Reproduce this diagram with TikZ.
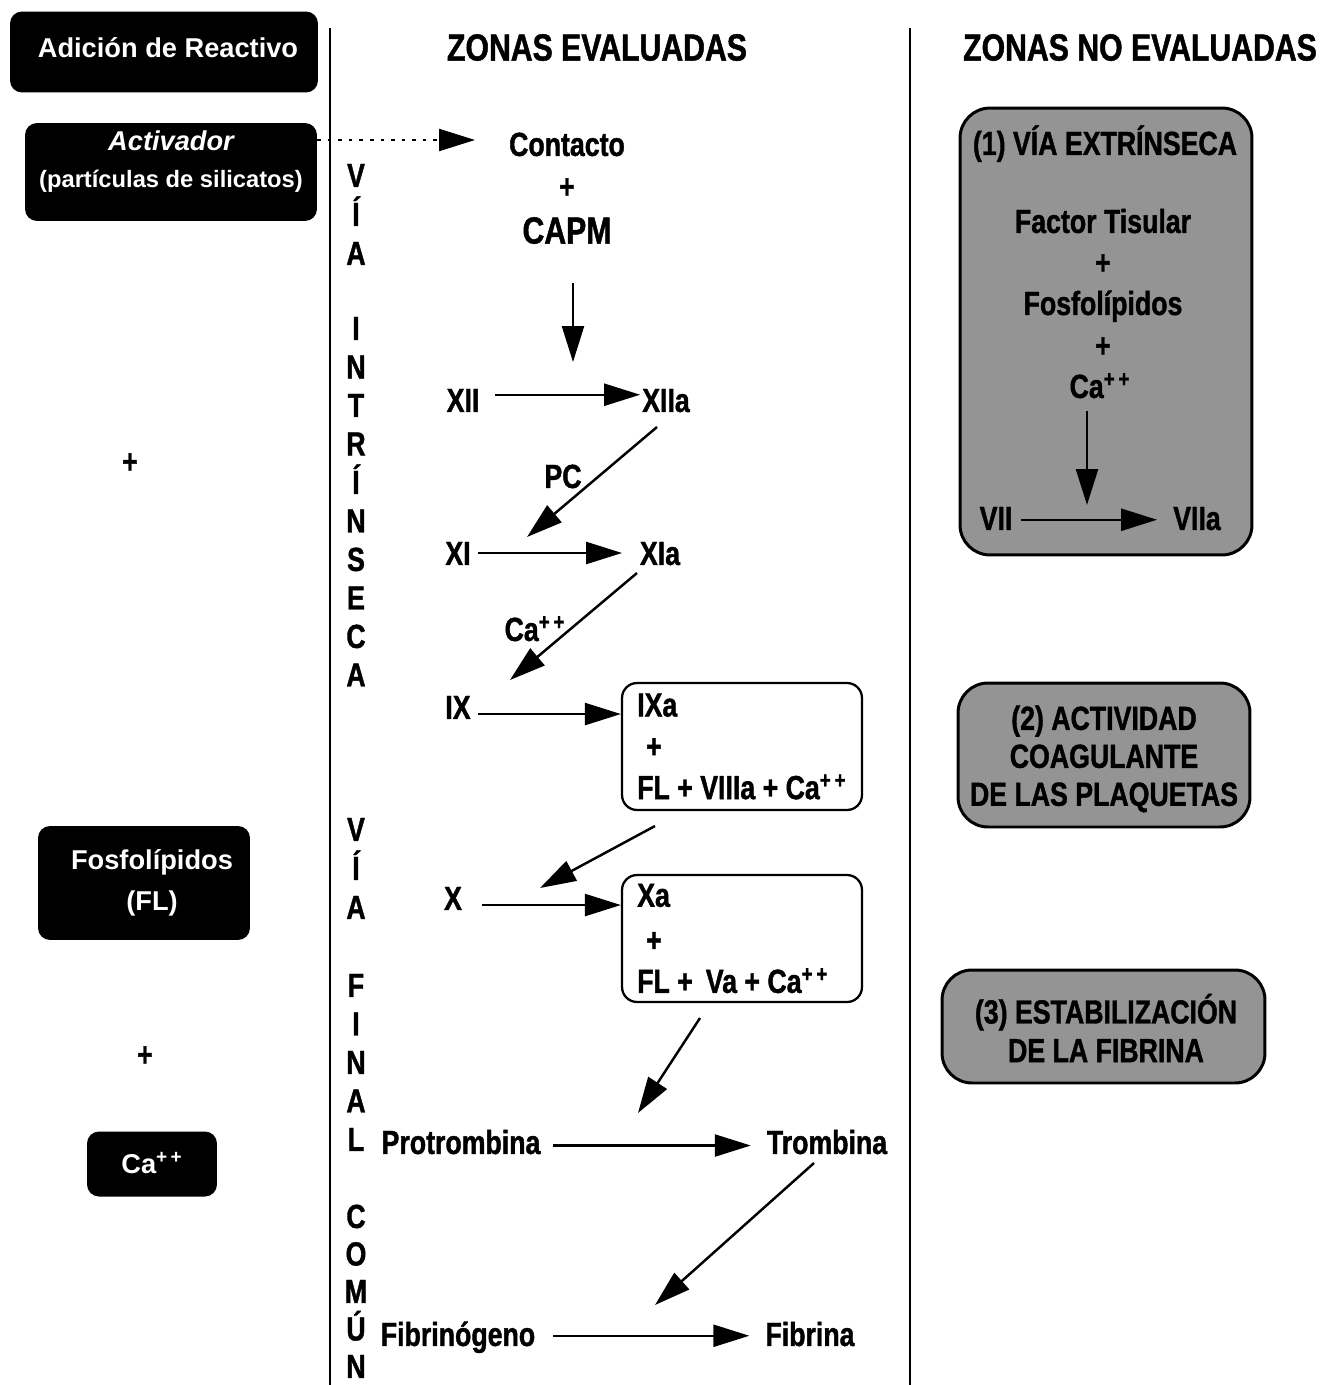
\documentclass[tikz,border=0pt]{standalone}
\usepackage{fontspec}
\setmainfont{Liberation Sans}
\newfontfamily\angosta{Liberation Sans}[FakeStretch=0.8, BoldFeatures={FakeBold=1.2}]
\usetikzlibrary{arrows.meta}

\newcommand{\fuente}{\angosta\bfseries\fontsize{19}{21.5}\selectfont}
\newcommand{\calcio}{Ca\textsuperscript{+\,+}}

\tikzset{
  negro/.style={fill=black, rounded corners=0.24cm},
  negrotxt/.style={text=white, align=center, inner sep=0pt,
    font=\bfseries\fontsize{15.5}{21}\selectfont},
  gris/.style={draw=black, line width=1.7pt, fill=black!42, rounded corners=0.6cm},
  blanco/.style={draw=black, line width=1.3pt, rounded corners=0.3cm},
  txt/.style={font=\fuente, inner sep=1pt, text height=13.6pt, text depth=0pt},
  bloque/.style={font=\fuente, inner sep=0pt, align=center},
  flecha/.style={line width=1.4pt, -{Triangle[length=0.72cm, width=0.44cm]}},
  sep/.style={line width=1.4pt},
}

\begin{document}
\begin{tikzpicture}[x=0.02cm, y=-0.02cm]
\useasboundingbox (0,0) rectangle (1325,1385);

% separadores
\draw[sep] (330,28) -- (330,1385);
\draw[sep] (910,28) -- (910,1385);

% titulos
\node[txt, font=\angosta\bfseries\fontsize{21.5}{24}\selectfont, text height=15.4pt] (zev) at (597,47) {ZONAS EVALUADAS};
\node[txt, font=\angosta\bfseries\fontsize{21.5}{24}\selectfont, text height=15.4pt] (znoev) at (1140,47) {ZONAS NO EVALUADAS};

% columna de reactivos
\node[negro, minimum width=6.16cm, minimum height=1.62cm] (reactivo) at (164,52) {};
\node[negrotxt] (reactivotxt) at (168,48) {Adición de Reactivo};
\node[negro, minimum width=5.84cm, minimum height=1.96cm] (activador) at (171,172) {};
\node[negrotxt] (activadortxt) at (171,162)
  {{\itshape Activador}\\{\fontsize{13.5}{16}\selectfont (partículas de silicatos)}};
\node[txt] (mas1) at (130,461) {+};
\node[negro, minimum width=4.24cm, minimum height=2.28cm] (fosfo) at (144,883) {};
\node[negrotxt] (fosfotxt) at (152,883) {Fosfolípidos\\[2pt](FL)};
\node[txt] (mas2) at (145,1054) {+};
\node[negro, minimum width=2.6cm, minimum height=1.3cm] (calcio) at (152,1164) {};
\node[negrotxt] (calciotxt) at (152,1163) {\calcio};

% letras verticales
\foreach \l [count=\i from 0] in {V,Í,A}
  \node[txt, inner sep=0pt] (va\i) at (356,{175+39*\i}) {\l};
\foreach \l [count=\i from 0] in {I,N,T,R,Í,N,S,E,C,A}
  \node[txt, inner sep=0pt] (intr\i) at (356,{328+38.5*\i}) {\l};
\foreach \l [count=\i from 0] in {V,Í,A}
  \node[txt, inner sep=0pt] (vb\i) at (356,{829+39*\i}) {\l};
\foreach \l [count=\i from 0] in {F,I,N,A,L}
  \node[txt, inner sep=0pt] (fin\i) at (356,{985+38.5*\i}) {\l};
\foreach \l [count=\i from 0] in {C,O,M,Ú,N}
  \node[txt, inner sep=0pt] (com\i) at (356,{1216+37.5*\i}) {\l};

% via intrinseca
\node[txt] (contacto) at (567,144) {Contacto};
\node[txt] (mas3) at (567,186) {+};
\node[txt, font=\angosta\bfseries\fontsize{21.5}{24}\selectfont, text height=15.4pt] (capm) at (567,230) {CAPM};
\coordinate (punta0) at (475,140);
\draw[flecha, line width=1.3pt, dash pattern=on 2pt off 4pt] (activador.east |- punta0) -- (punta0);

\coordinate (c1) at (573,283);
\coordinate (c2) at (573,362);
\draw[flecha] (c1) -- (c2);

\node[txt] (xii) at (463,400) {XII};
\node[txt] (xiia) at (666,400) {XIIa};
\draw[flecha, shorten <=8pt] ([yshift=3pt]xii.east) -- ([yshift=3pt]xiia.west);

\coordinate (d1a) at (657,427);
\coordinate (d1b) at (527,537);
\draw[flecha] (d1a) -- (d1b);
\node[txt] (pc) at (563,476) {PC};

\node[txt] (xi) at (458,553) {XI};
\node[txt] (xia) at (660,553) {XIa};
\draw[flecha, shorten <=3pt, shorten >=9pt] (xi) -- (xia);

\coordinate (d2a) at (637,573);
\coordinate (d2b) at (510,680);
\draw[flecha] (d2a) -- (d2b);
\node[txt] (cap1) at (535,629) {\calcio};

\node[txt] (ix) at (458,707) {IX};
\node[blanco, minimum width=4.8cm, minimum height=2.54cm] (ixa) at (742,746.5) {};
\node[bloque, align=left, anchor=west] (ixatxt) at ([xshift=0.32cm]ixa.west)
  {IXa\\[2pt]\hspace*{0.18cm}+\\[2pt]FL + VIIIa + \calcio};
\coordinate (ixs) at ([yshift=-4pt]ix.east);
\draw[flecha, shorten <=3pt] (ixs) -- (ixa.west |- ixs);

\coordinate (d3a) at (655,826);
\coordinate (d3b) at (540,888);
\draw[flecha] (d3a) -- (d3b);

% via final comun
\node[txt] (x) at (453,898) {X};
\node[blanco, minimum width=4.8cm, minimum height=2.54cm] (xa) at (742,938.5) {};
\node[bloque, align=left, anchor=west] (xatxt) at ([xshift=0.32cm]xa.west)
  {Xa\\[4pt]\hspace*{0.18cm}+\\[2pt]FL +\, Va + \calcio};
\coordinate (xs) at ([yshift=-4pt]x.east);
\draw[flecha, shorten <=10pt] (xs) -- (xa.west |- xs);

\coordinate (d4a) at (700,1018);
\coordinate (d4b) at (638,1113);
\draw[flecha] (d4a) -- (d4b);

\node[txt] (protrombina) at (461,1142) {Protrombina};
\node[txt] (trombina) at (827,1142) {Trombina};
\draw[flecha, shorten <=6pt, shorten >=8pt] ([yshift=-2pt]protrombina.east) -- ([yshift=-2pt]trombina.west);

\coordinate (d5a) at (814,1163);
\coordinate (d5b) at (655,1305);
\draw[flecha] (d5a) -- (d5b);

\node[txt] (fibrinogeno) at (458,1334) {Fibrinógeno};
\node[txt] (fibrina) at (810,1334) {Fibrina};
\draw[flecha, shorten <=9pt, shorten >=8pt] ([yshift=-1pt]fibrinogeno.east) -- ([yshift=-1pt]fibrina.west);

% zonas no evaluadas
\node[gris, minimum width=5.84cm, minimum height=8.94cm] (extr) at (1106,331.5) {};
\node[txt] (extrtit) at (1105,143) {(1) VÍA EXTRÍNSECA};
\node[txt] (factor) at (1103,221) {Factor Tisular};
\node[txt] (mas4) at (1103,262) {+};
\node[txt] (fosfo2) at (1103,303) {Fosfolípidos};
\node[txt] (mas5) at (1103,345) {+};
\node[txt] (cap2) at (1100,386) {\calcio};
\node[txt] (vii) at (996,518) {VII};
\node[txt] (viia) at (1197,518) {VIIa};
\draw[flecha, shorten <=4pt, shorten >=8pt] ([yshift=-1pt]vii.east) -- ([yshift=-1pt]viia.west);
\coordinate (vtip) at (1087,505);
\draw[flecha, shorten <=6pt] (cap2.south -| vtip) -- (vtip);

\node[gris, minimum width=5.84cm, minimum height=2.88cm] (plaq) at (1104,755) {};
\node[bloque, font=\angosta\bfseries\fontsize{19}{21.6}\selectfont] (plaqtxt) at (1104,759)
  {(2) ACTIVIDAD\\COAGULANTE\\DE LAS PLAQUETAS};

\node[gris, minimum width=6.46cm, minimum height=2.26cm] (fibr) at (1103.5,1026.5) {};
\node[bloque, font=\angosta\bfseries\fontsize{19}{22}\selectfont] (fibrtxt) at (1106,1028)
  {(3) ESTABILIZACIÓN\\DE LA FIBRINA};
\end{tikzpicture}
\end{document}
